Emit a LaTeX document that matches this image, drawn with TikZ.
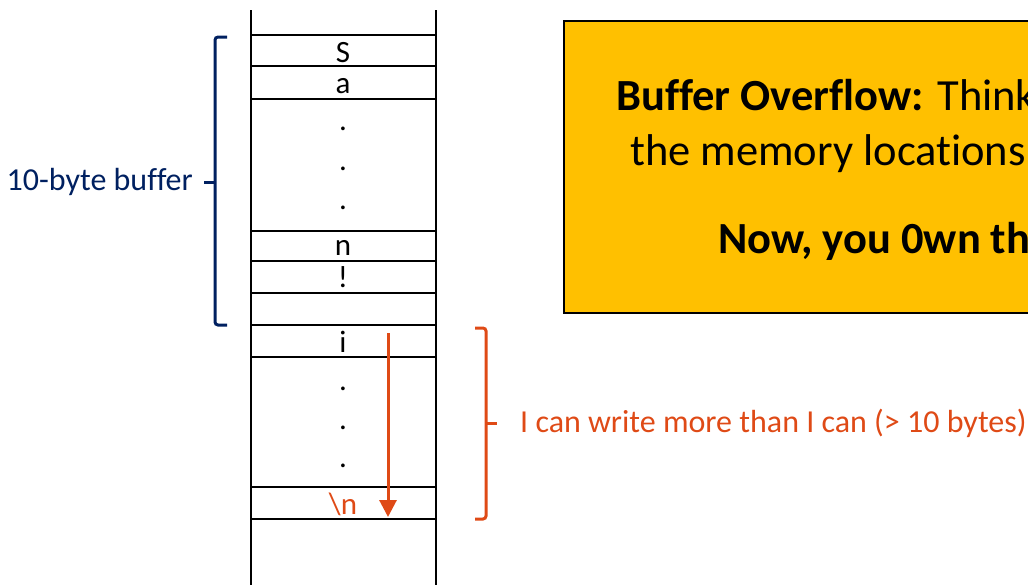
\documentclass[tikz,border=0pt]{standalone}
\usepackage{fontspec}
\setmainfont[Ligatures=CommonOff]{Carlito}
\usetikzlibrary{arrows.meta}
\definecolor{navy}{HTML}{002060}
\definecolor{rust}{HTML}{DF4A16}
\definecolor{gold}{HTML}{FFC000}
\begin{document}
\begin{tikzpicture}[x=1pt,y=-1pt,
  cellline/.style={line width=2.2pt,black},
  celltext/.style={anchor=base,inner sep=0pt,font=\fontsize{31}{34}\selectfont},
  bracket/.style={line width=3pt,rounded corners=3pt},
  note/.style={anchor=base west,inner sep=0pt,font=\fontsize{44.5}{50}\selectfont}]
\useasboundingbox (0,0) rectangle (1028,584);
\clip (0,0) rectangle (1028,584);
% stack walls
\draw[cellline] (251,10) -- (251,590);
\draw[cellline] (436,10) -- (436,590);
% cell boundaries
\foreach \yy in {35,66,99,231,261,293,325,357,487,519}
  \draw[cellline] (251,\yy) -- (436,\yy);
% cell contents
\node[celltext] (cS) at (343,62) {S};
\node[celltext] (ca) at (343,93) {a};
\node[celltext] (d1) at (343,130) {.};
\node[celltext] (d2) at (343,170) {.};
\node[celltext] (d3) at (343,209) {.};
\node[celltext] (cn) at (343,255) {n};
\node[celltext] (cx) at (343,287) {!};
\node[celltext] (ci) at (343,352) {i};
\node[celltext] (d4) at (343,390) {.};
\node[celltext] (d5) at (343,429) {.};
\node[celltext] (d6) at (343,467) {.};
\node[celltext,text=rust] (cnl) at (343,514) {\textbackslash n};
% write direction
\coordinate (wstart) at (388,333);
\coordinate (wend) at (388,517);
\draw[rust,line width=3pt,-{Triangle[width=17pt,length=17pt]}] (wstart) -- (wend);
% buffer bracket
\draw[navy,bracket] (227,37) -- (215,37) -- (215,325) -- (227,325);
\coordinate (bmid) at (215,182);
\coordinate (btip) at (204,182);
\draw[navy,line width=3pt] (bmid) -- (btip);
\node[anchor=east,inner sep=0pt,text=navy,font=\fontsize{32}{36}\selectfont] (blabel) at (193,182) {10-byte buffer};
% overflow bracket
\draw[rust,bracket] (475,328) -- (486,328) -- (486,519) -- (475,519);
\coordinate (omid) at (486,423);
\coordinate (otip) at (497,423);
\draw[rust,line width=3pt] (omid) -- (otip);
\node[anchor=west,inner sep=0pt,text=rust,font=\fontsize{32}{36}\selectfont] (olabel) at (520,423) {I can write more than I can (> 10 bytes)};
% note box
\node[draw=black,fill=gold,line width=2pt,minimum width=480pt,minimum height=292pt,anchor=north west,inner sep=0pt] (box) at (563,20) {};
\node[note] (l1) at (616,110) {\textbf{Buffer Overflow:} Think};
\node[note] (l2) at (630,165) {the memory locations};
\node[note] (l3) at (718,253) {\textbf{Now, you 0wn the}};
\end{tikzpicture}
\end{document}
